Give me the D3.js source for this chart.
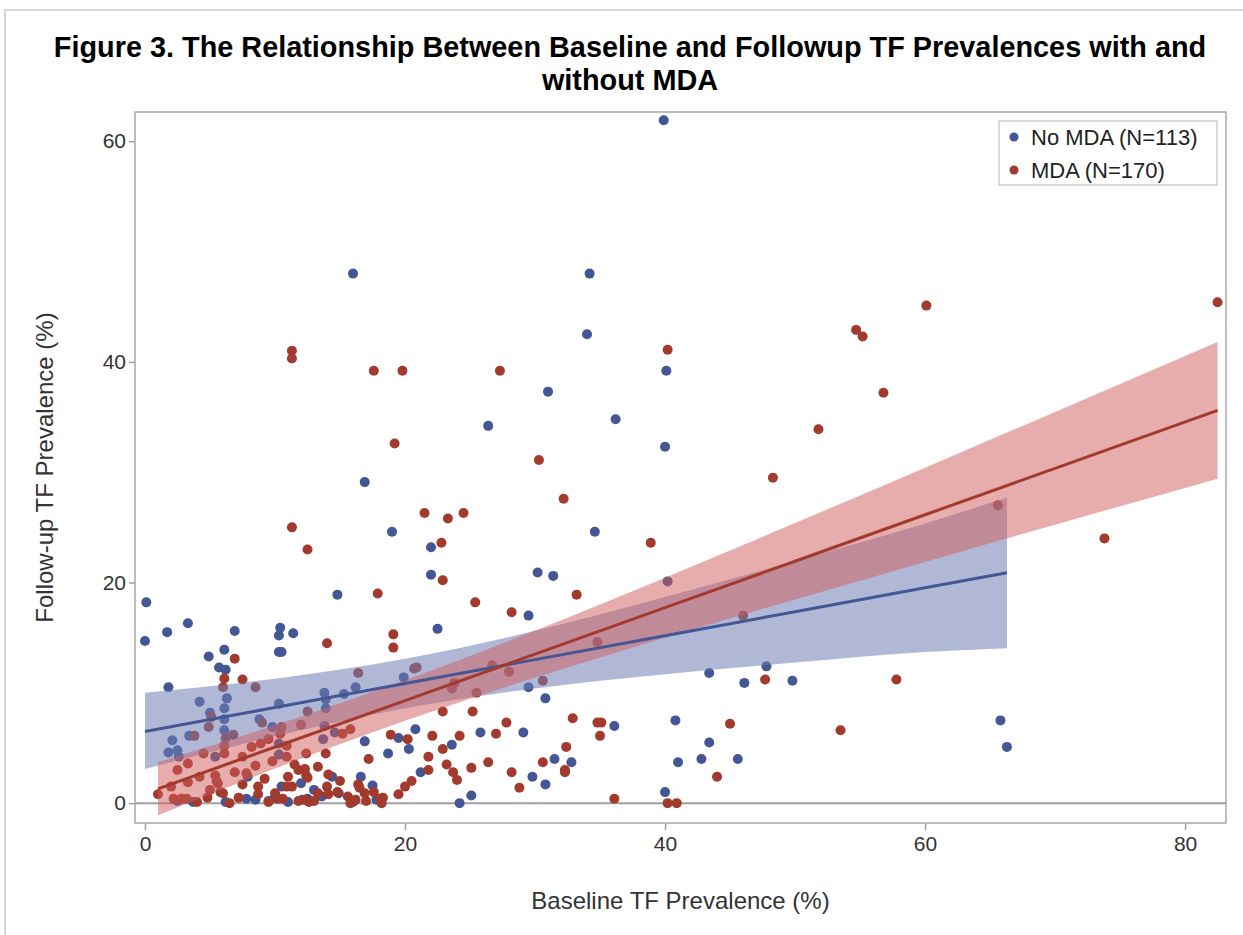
<!DOCTYPE html>
<html>
<head>
<meta charset="utf-8">
<script src="https://cdnjs.cloudflare.com/ajax/libs/d3/7.8.5/d3.min.js"></script>
<style>
  body { margin: 0; background: #fff; }
  text { font-family: "Liberation Sans", Arial, sans-serif; }
</style>
</head>
<body>
<div id="scatter"></div>
<script>
// Data: [baseline %, follow-up %]
var noMdaPoints = [
  [39.9, 61.9], [16.0, 48.0], [34.2, 48.0], [34.0, 42.5], [31.0, 37.3], [40.1, 39.2],
  [40.0, 32.3], [36.2, 34.8], [26.4, 34.2], [16.9, 29.1], [19.0, 24.6], [34.6, 24.6],
  [22.0, 23.2], [22.0, 20.7], [30.2, 20.9], [31.4, 20.6], [40.2, 20.1], [0.1, 18.2],
  [14.8, 18.9], [0.0, 14.7], [1.7, 15.5], [3.3, 16.3], [6.9, 15.6], [10.4, 15.9],
  [10.3, 15.2], [11.4, 15.4], [4.9, 13.3], [6.1, 13.9], [5.7, 12.3], [6.2, 12.1],
  [10.3, 13.7], [10.5, 13.7], [22.5, 15.8], [29.5, 17.0], [1.8, 10.5], [5.0, 8.2],
  [6.1, 8.6], [6.1, 7.6], [6.1, 6.6], [2.1, 5.7], [1.8, 4.6], [2.5, 4.8],
  [2.6, 4.2], [13.8, 10.0], [13.9, 9.4], [13.9, 8.6], [15.3, 9.9], [16.2, 10.5],
  [19.9, 11.4], [29.5, 10.5], [30.8, 9.5], [36.1, 7.0], [40.8, 7.5], [43.4, 11.8],
  [46.1, 10.9], [47.8, 12.4], [49.8, 11.1], [43.4, 5.5], [42.8, 4.0], [45.6, 4.0],
  [41.0, 3.7], [40.0, 1.0], [25.8, 6.4], [29.1, 6.4], [23.6, 5.3], [31.5, 4.0],
  [32.8, 3.7], [29.8, 2.4], [30.8, 1.7], [25.1, 0.7], [24.2, 0.0], [21.2, 2.8],
  [65.8, 7.5], [66.3, 5.1], [18.7, 4.5], [20.3, 4.9], [14.4, 2.4], [16.6, 2.4],
  [17.5, 1.6], [12.0, 1.8], [7.9, 2.4], [3.7, 0.1], [6.2, 0.1], [7.8, 0.4],
  [10.5, 1.5], [12.1, 0.3], [12.5, 0.4], [13.6, 0.6], [14.9, 0.9], [10.0, 0.5],
  [2.5, 0.2], [9.5, 0.2], [11.0, 0.1], [16.0, 0.1], [17.8, 0.3], [5.5, 2.0],
  [8.5, 0.3], [13.0, 1.2], [9.8, 6.9], [10.3, 5.4], [10.3, 4.4], [13.8, 7.0],
  [4.2, 9.2], [6.3, 9.5], [10.3, 9.0], [13.7, 5.8], [14.6, 6.4], [8.8, 7.6],
  [16.9, 5.6], [19.5, 5.9], [20.8, 6.7], [5.4, 4.2], [3.4, 6.1]
];

var mdaPoints = [
  [82.5, 45.4], [60.1, 45.1], [54.7, 42.9], [55.2, 42.3], [40.2, 41.1], [11.3, 41.0],
  [11.3, 40.3], [27.3, 39.2], [17.6, 39.2], [19.8, 39.2], [56.8, 37.2], [19.2, 32.6],
  [30.3, 31.1], [51.8, 33.9], [48.3, 29.5], [32.2, 27.6], [21.5, 26.3], [24.5, 26.3],
  [23.3, 25.8], [11.3, 25.0], [12.5, 23.0], [22.8, 23.6], [38.9, 23.6], [73.8, 24.0],
  [65.6, 27.0], [22.9, 20.2], [17.9, 19.0], [33.2, 18.9], [25.4, 18.2], [28.2, 17.3],
  [46.0, 17.0], [14.0, 14.5], [19.1, 15.3], [19.1, 14.1], [34.8, 14.6], [20.7, 12.2],
  [20.9, 12.3], [16.4, 11.8], [26.7, 12.5], [28.0, 11.9], [47.7, 11.2], [57.8, 11.2],
  [6.9, 13.1], [6.1, 11.3], [7.5, 11.2], [8.5, 10.5], [6.0, 10.5], [30.6, 11.1],
  [23.8, 10.9], [23.6, 10.4], [25.5, 10.0], [22.9, 8.3], [25.2, 8.3], [27.8, 7.3],
  [27.0, 6.3], [24.2, 6.1], [22.1, 6.1], [32.9, 7.7], [34.8, 7.3], [35.1, 7.3],
  [35.0, 6.1], [45.0, 7.2], [53.5, 6.6], [22.9, 4.9], [21.8, 4.2], [21.8, 3.0],
  [23.2, 3.5], [25.1, 3.2], [26.4, 3.7], [24.0, 2.1], [28.2, 2.8], [28.8, 1.4],
  [30.6, 3.7], [32.4, 5.1], [32.3, 3.0], [32.3, 2.8], [36.1, 0.4], [40.2, 0.0],
  [40.9, 0.0], [44.0, 2.4], [3.8, 6.1], [4.9, 6.9], [5.1, 7.8], [9.0, 7.3],
  [12.5, 8.3], [15.2, 6.3], [15.8, 6.7], [12.0, 7.1], [10.5, 6.9], [10.4, 6.3],
  [9.5, 5.8], [6.8, 6.2], [6.2, 5.9], [6.1, 5.2], [6.1, 4.5], [8.2, 5.1],
  [8.9, 5.4], [10.9, 5.2], [10.9, 4.2], [12.4, 4.5], [13.9, 4.5], [3.3, 3.6],
  [2.5, 3.0], [3.3, 1.9], [4.2, 2.4], [5.4, 2.5], [5.6, 1.8], [5.8, 1.0],
  [6.0, 0.9], [6.9, 2.8], [7.5, 4.2], [8.5, 3.4], [7.8, 2.7], [7.5, 1.7],
  [1.0, 0.8], [2.2, 0.4], [2.8, 0.4], [3.2, 0.4], [4.8, 0.5], [6.5, 0.0],
  [8.7, 1.5], [8.7, 0.8], [10.0, 0.9], [10.2, 0.4], [10.6, 0.4], [10.9, 1.5],
  [11.0, 2.4], [11.3, 1.5], [11.5, 3.5], [11.8, 3.0], [12.3, 3.1], [12.4, 2.5],
  [12.5, 2.3], [12.3, 0.3], [12.6, 0.1], [13.3, 0.9], [14.0, 1.5], [14.1, 2.6],
  [14.1, 0.8], [14.8, 1.0], [15.6, 0.6], [15.8, 0.0], [16.4, 1.7], [16.5, 1.4],
  [16.9, 0.9], [17.2, 4.0], [18.1, 0.4], [18.3, 0.5], [18.2, 0.0], [18.9, 6.2],
  [20.2, 5.8], [20.0, 1.5], [23.7, 2.8], [4.0, 0.1], [5.0, 1.2], [9.5, 0.1],
  [11.8, 0.2], [13.0, 0.2], [16.2, 0.3], [17.0, 0.2], [7.2, 0.5], [9.2, 2.2],
  [15.0, 2.0], [17.6, 1.0], [19.5, 0.8], [2.0, 1.5], [4.5, 4.5], [9.8, 3.8],
  [13.3, 3.3], [20.5, 2.0]
];

// Regression fits with 95% confidence limits, read at several baseline values
var noMdaFitX = [0, 10, 20, 30, 40, 50, 60, 66.3];
var noMdaFit = [6.5, 8.67, 10.84, 13.01, 15.18, 17.35, 19.52, 20.89];
var noMdaLower = [3.1, 6.06, 8.6, 10.4, 11.68, 12.74, 13.69, 14.05];
var noMdaUpper = [10.0, 11.28, 13.08, 15.62, 18.68, 21.96, 25.35, 27.7];

var mdaFitX = [1, 10, 20, 30, 40, 50, 60, 70, 82.5];
var mdaFit = [1.3, 5.09, 9.3, 13.51, 17.72, 21.93, 26.14, 30.35, 35.61];
var mdaLower = [-1.1, 3.13, 7.47, 11.38, 15.0, 18.47, 21.87, 25.24, 29.41];
var mdaUpper = [3.7, 7.05, 11.13, 15.64, 20.44, 25.39, 30.41, 35.46, 41.81];

var seriesNames = ["No MDA (N=113)", "MDA (N=170)"];
var xTicks = [0, 20, 40, 60, 80];
var yTicks = [0, 20, 40, 60];

var titleLines = [
  "Figure 3. The Relationship Between Baseline and Followup TF Prevalences with and",
  "without MDA"
];

// Colours
var blue = "#445694", red = "#A23A2E";
var blueFill = "#6F7EB3", redFill = "#D05B5B";

// SVG dimensions
var svgWidth = 1243;
var svgHeight = 935;

var margin = { top: 112, right: 17, bottom: 112, left: 135 };
var width = svgWidth - margin.left - margin.right;
var height = svgHeight - margin.top - margin.bottom;

var svg = d3.select("#scatter")
  .append("svg")
  .attr("width", svgWidth)
  .attr("height", svgHeight);

// outer border of the graph image
svg.append("rect")
  .attr("x", 5).attr("y", 10)
  .attr("width", svgWidth).attr("height", svgHeight)
  .attr("fill", "none")
  .attr("stroke", "#d6d6d6")
  .attr("stroke-width", 2);

// Title
var title = svg.append("g");
titleLines.forEach(function(t, i) {
  title.append("text")
    .attr("x", 630)
    .attr("y", 57 + i * 33)
    .attr("text-anchor", "middle")
    .attr("font-size", "26px")
    .attr("font-weight", "bold")
    .attr("fill", "#000")
    .text(t);
});
// fit first line to the width it has in the figure
var firstLen = title.select("text").node().getComputedTextLength();
title.selectAll("text").attr("font-size", (26 * 1153 / firstLen) + "px");

var chartGroup = svg.append("g")
  .attr("transform", `translate(${margin.left}, ${margin.top})`);

var xLinearScale = d3.scaleLinear()
  .domain([-0.77, 83.15])
  .range([0, width]);

var yLinearScale = d3.scaleLinear()
  .domain([-1.8, 62.65])
  .range([height, 0]);

var bottomAxis = d3.axisBottom(xLinearScale)
  .tickValues(xTicks).tickSizeOuter(0).tickSize(7).tickPadding(6);
var leftAxis = d3.axisLeft(yLinearScale)
  .tickValues(yTicks).tickSizeOuter(0).tickSize(6).tickPadding(3);

var xAxisG = chartGroup.append("g")
  .attr("transform", `translate(0, ${height})`)
  .call(bottomAxis);
var yAxisG = chartGroup.append("g")
  .call(leftAxis);

[xAxisG, yAxisG].forEach(function(g) {
  g.select(".domain").remove();
  g.selectAll("line").attr("stroke", "#a0a0a0").attr("stroke-width", 1.5);
  g.selectAll("text")
    .attr("font-size", "21px")
    .attr("fill", "#333")
    .style("font-family", "'Liberation Sans', Arial, sans-serif");
});

// Reference line at 0
chartGroup.append("line")
  .attr("x1", 0).attr("x2", width)
  .attr("y1", yLinearScale(0)).attr("y2", yLinearScale(0))
  .attr("stroke", "#a0a0a0")
  .attr("stroke-width", 2);

// Scatter points
chartGroup.append("g").selectAll("circle")
  .data(noMdaPoints)
  .enter()
  .append("circle")
  .attr("cx", d => xLinearScale(d[0]))
  .attr("cy", d => yLinearScale(d[1]))
  .attr("r", 5)
  .attr("fill", blue);

chartGroup.append("g").selectAll("circle")
  .data(mdaPoints)
  .enter()
  .append("circle")
  .attr("cx", d => xLinearScale(d[0]))
  .attr("cy", d => yLinearScale(d[1]))
  .attr("r", 5)
  .attr("fill", red);

// Confidence bands
var band = d3.area()
  .x(d => xLinearScale(d.x))
  .y0(d => yLinearScale(d.lo))
  .y1(d => yLinearScale(d.hi))
  .curve(d3.curveMonotoneX);

var fitLine = d3.line()
  .x(d => xLinearScale(d.x))
  .y(d => yLinearScale(d.y));

var noMdaBand = noMdaFitX.map((x, i) => ({ x: x, y: noMdaFit[i], lo: noMdaLower[i], hi: noMdaUpper[i] }));
var mdaBand = mdaFitX.map((x, i) => ({ x: x, y: mdaFit[i], lo: mdaLower[i], hi: mdaUpper[i] }));

chartGroup.append("path")
  .datum(noMdaBand)
  .attr("d", band)
  .attr("fill", blueFill)
  .attr("fill-opacity", 0.55);

chartGroup.append("path")
  .datum(mdaBand)
  .attr("d", band)
  .attr("fill", redFill)
  .attr("fill-opacity", 0.5);

chartGroup.append("path")
  .datum(noMdaBand)
  .attr("d", fitLine)
  .attr("fill", "none")
  .attr("stroke", blue)
  .attr("stroke-width", 3);

chartGroup.append("path")
  .datum(mdaBand)
  .attr("d", fitLine)
  .attr("fill", "none")
  .attr("stroke", red)
  .attr("stroke-width", 3);

// Plot frame
chartGroup.append("rect")
  .attr("width", width)
  .attr("height", height)
  .attr("fill", "none")
  .attr("stroke", "#a8a8a8")
  .attr("stroke-width", 1.5);

// Legend
var legend = chartGroup.append("g")
  .attr("transform", `translate(${width - 227}, 9)`);

legend.append("rect")
  .attr("width", 218)
  .attr("height", 64)
  .attr("fill", "#fff")
  .attr("stroke", "#cfcfcf")
  .attr("stroke-width", 1.5);

[blue, red].forEach(function(c, i) {
  legend.append("circle")
    .attr("cx", 15)
    .attr("cy", 16 + i * 33)
    .attr("r", 4.5)
    .attr("fill", c);
  legend.append("text")
    .attr("x", 32)
    .attr("y", 24 + i * 33)
    .attr("font-size", "22px")
    .attr("fill", "#222")
    .text(seriesNames[i]);
});

// Y Axis Label
chartGroup.append("text")
  .attr("transform", "rotate(-90)")
  .attr("y", 45 - margin.left)
  .attr("x", 0 - (height / 2))
  .attr("dy", "0.35em")
  .style("text-anchor", "middle")
  .attr("font-size", "24px")
  .attr("fill", "#333")
  .text("Follow-up TF Prevalence (%)");

// X Axis Label
chartGroup.append("text")
  .attr("transform", `translate(${width / 2}, ${height + 86})`)
  .style("text-anchor", "middle")
  .attr("font-size", "24px")
  .attr("fill", "#333")
  .text("Baseline TF Prevalence (%)");
</script>
</body>
</html>
